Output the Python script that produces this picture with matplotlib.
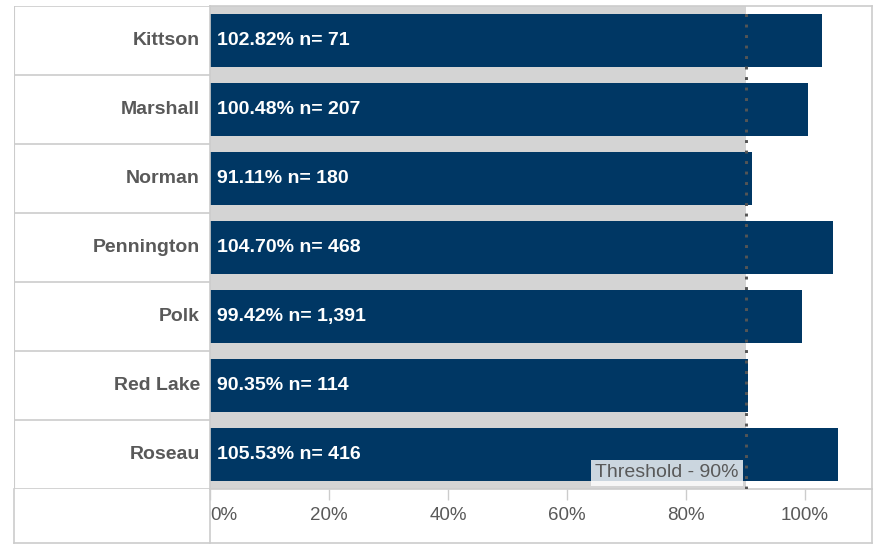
"""Share of threshold by county, horizontal bars with a 90% threshold band."""

import matplotlib.pyplot as plt
from matplotlib.lines import Line2D
from matplotlib.transforms import blended_transform_factory

plt.rcParams['font.family'] = ['Liberation Sans', 'DejaVu Sans']

counties = ['Kittson', 'Marshall', 'Norman', 'Pennington', 'Polk', 'Red Lake', 'Roseau']
pct = [102.82, 100.48, 91.11, 104.70, 99.42, 90.35, 105.53]
n_obs = ['71', '207', '180', '468', '1,391', '114', '416']
threshold = 90
xticks = [0, 20, 40, 60, 80, 100]

NAVY = '#003764'
BAND = '#d4d4d4'
BORDER = '#cccccc'
TEXT = '#595959'

W, H = 877, 544
fig = plt.figure(figsize=(W / 100, H / 100), dpi=100)


def fx(x):
    return x / W


def fy(y):
    return 1 - y / H


left, right, top, bottom = 210, 872, 6, 489
ax = fig.add_axes([fx(left), fy(bottom), fx(right - left), (bottom - top) / H])
rows = range(len(counties))

ax.axvspan(0, threshold, color=BAND, lw=0, zorder=0)
ax.barh(rows, pct, height=0.77, color=NAVY, zorder=1)
ax.axvline(threshold, color='#555555', lw=2.1, linestyle=(0, (1, 2.6)),
           dash_capstyle='butt', zorder=3)

for i, (p, n) in enumerate(zip(pct, n_obs)):
    ax.text(1.2, i, f'{p:.2f}% n= {n}', color='white', fontsize=14,
            fontweight='bold', va='center', ha='left', zorder=4)

trans = blended_transform_factory(ax.transData, ax.transAxes)
ax.text(88.9, 0.016, 'Threshold - 90%', transform=trans, ha='right', va='bottom',
        color=TEXT, fontsize=14, zorder=5,
        bbox=dict(boxstyle='square,pad=0.22', facecolor='white', alpha=0.8, lw=0))

ax.set_xlim(0, (right - left) / 5.95)
ax.set_ylim(len(counties) - 0.5, -0.5)
ax.set_yticks([])
ax.set_xticks(xticks)
ax.set_xticklabels([f'{t}%' for t in xticks])
ax.tick_params(axis='x', length=8, width=1, color=BORDER, labelcolor=TEXT,
               labelsize=13.5, pad=5)
ax.get_xticklabels()[0].set_horizontalalignment('left')
for s in ax.spines.values():
    s.set_color(BORDER)
    s.set_linewidth(1.2)

# label column
lab = fig.add_axes([fx(14), fy(bottom), fx(left - 14), (bottom - top) / H])
lab.set_xlim(0, left - 14)
lab.set_ylim(len(counties) - 0.5, -0.5)
lab.axis('off')
for i in range(len(counties) + 1):
    lab.axhline(i - 0.5, color=BORDER, lw=1.2)
lab.axvline(0, color=BORDER, lw=1.5)
for i, c in enumerate(counties):
    lab.text(200 - 14, i, c, ha='right', va='center', color=TEXT,
             fontsize=14, fontweight='bold')

# bottom box below the label column and axis
for xs, ys in [([14, 14], [bottom, 543]), ([left, left], [bottom, 543]),
               ([right, right], [bottom, 543]), ([14, right], [543, 543])]:
    fig.add_artist(Line2D([fx(x) for x in xs], [fy(y) for y in ys],
                          color=BORDER, lw=1.2))

fig.savefig('out.png', dpi=100)
